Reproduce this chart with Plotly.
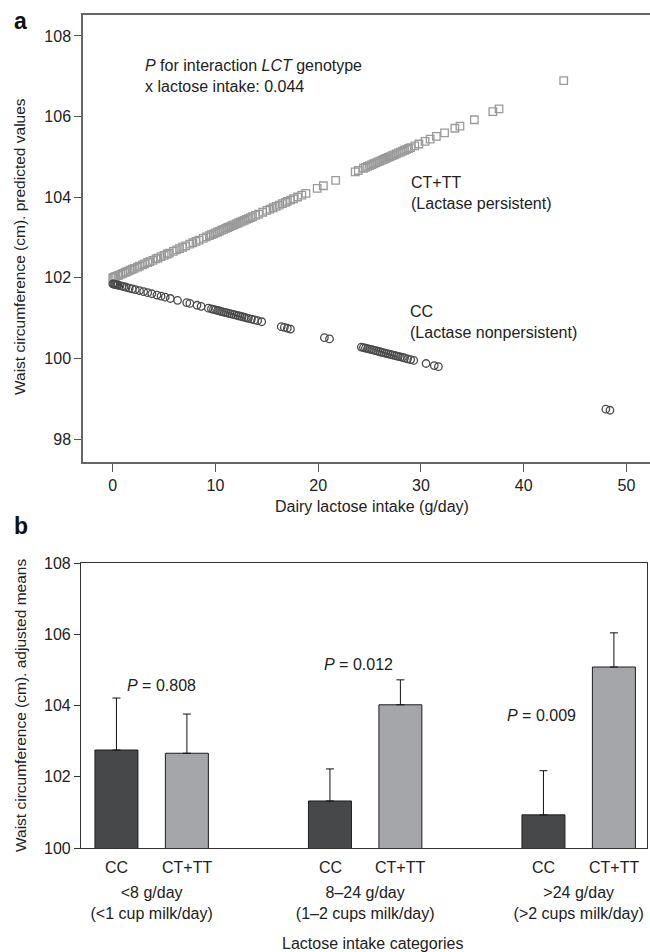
import plotly.graph_objects as go

# ---------------- Panel a data ----------------
ct_x = [0.0, 0.1, 0.2, 0.3, 0.5, 0.6, 0.8, 1.0, 1.2, 1.3, 1.5, 1.7, 1.9, 2.1, 2.4, 2.6, 2.9, 3.1,
        3.4, 3.6, 3.9, 4.2, 4.4, 4.7, 5.0, 5.3, 5.5, 5.9, 6.2, 6.5, 6.8, 7.1, 7.5, 7.8, 8.1, 8.4,
        8.8, 9.1, 9.4, 9.6, 9.8, 10.0, 10.2, 10.4, 10.6, 10.8, 11.0, 11.2, 11.4, 11.6, 11.8, 12.0,
        12.2, 12.4, 12.6, 12.8, 13.0, 13.2, 13.4, 13.6, 13.9, 14.2, 14.6, 15.0, 15.3, 15.6, 15.9,
        16.2, 16.5, 16.8, 17.0, 17.3, 17.6, 18.0, 18.4, 18.8, 19.9, 20.5, 21.7, 23.6, 23.9, 24.4,
        24.6, 24.8, 25.0, 25.2, 25.4, 25.6, 25.8, 26.0, 26.2, 26.4, 26.6, 26.8, 27.0, 27.2, 27.4,
        27.6, 27.8, 28.0, 28.2, 28.4, 28.6, 28.8, 29.0, 29.4, 29.8, 30.4, 30.9, 31.5, 32.3, 33.3,
        33.8, 35.2, 37.0, 37.6, 43.9]
ct_y = [102.000, 102.011, 102.022, 102.033, 102.056, 102.067, 102.089, 102.111, 102.134, 102.145,
        102.167, 102.189, 102.212, 102.234, 102.267, 102.290, 102.323, 102.345, 102.379, 102.401,
        102.434, 102.468, 102.490, 102.524, 102.557, 102.590, 102.613, 102.657, 102.691, 102.724,
        102.758, 102.791, 102.836, 102.869, 102.902, 102.936, 102.980, 103.014, 103.047, 103.069,
        103.092, 103.114, 103.136, 103.159, 103.181, 103.203, 103.225, 103.248, 103.270, 103.292,
        103.315, 103.337, 103.359, 103.381, 103.404, 103.426, 103.448, 103.470, 103.493, 103.515,
        103.548, 103.582, 103.626, 103.671, 103.704, 103.738, 103.771, 103.805, 103.838, 103.872,
        103.894, 103.927, 103.961, 104.005, 104.050, 104.094, 104.217, 104.284, 104.417, 104.629,
        104.662, 104.718, 104.740, 104.763, 104.785, 104.807, 104.830, 104.852, 104.874, 104.896,
        104.919, 104.941, 104.963, 104.986, 105.008, 105.030, 105.052, 105.075, 105.097, 105.119,
        105.141, 105.164, 105.186, 105.208, 105.231, 105.275, 105.320, 105.387, 105.442, 105.509,
        105.598, 105.710, 105.765, 105.921, 106.122, 106.189, 106.890]

cc_x = [0.0, 0.1, 0.2, 0.3, 0.4, 0.5, 0.7, 0.9, 1.1, 1.3, 1.6, 1.9, 2.2, 2.6, 3.0, 3.4, 3.8, 4.3,
        4.7, 5.1, 5.6, 6.3, 7.2, 7.5, 8.2, 8.6, 9.3, 9.6, 9.8, 10.0, 10.2, 10.4, 10.6, 10.8, 11.0,
        11.2, 11.4, 11.6, 11.8, 12.0, 12.2, 12.4, 12.6, 12.8, 13.0, 13.2, 13.5, 13.8, 14.1, 14.5,
        16.4, 16.7, 17.0, 17.3, 20.6, 21.1, 24.2, 24.4, 24.6, 24.8, 25.0, 25.2, 25.4, 25.6, 25.8,
        26.0, 26.2, 26.4, 26.6, 26.8, 27.0, 27.2, 27.4, 27.6, 27.8, 28.0, 28.2, 28.4, 28.7, 29.0,
        29.3, 30.5, 31.3, 31.7, 48.0, 48.4]
cc_y = [101.850, 101.844, 101.837, 101.831, 101.824, 101.818, 101.805, 101.792, 101.779, 101.766,
        101.746, 101.727, 101.707, 101.682, 101.656, 101.630, 101.604, 101.571, 101.545, 101.520,
        101.487, 101.442, 101.383, 101.364, 101.319, 101.293, 101.247, 101.228, 101.215, 101.202,
        101.189, 101.176, 101.163, 101.150, 101.137, 101.124, 101.111, 101.098, 101.085, 101.072,
        101.059, 101.046, 101.034, 101.021, 101.008, 100.995, 100.975, 100.956, 100.936, 100.910,
        100.787, 100.768, 100.748, 100.729, 100.515, 100.483, 100.282, 100.269, 100.256, 100.243,
        100.230, 100.217, 100.204, 100.191, 100.178, 100.165, 100.152, 100.139, 100.126, 100.113,
        100.100, 100.087, 100.074, 100.061, 100.049, 100.036, 100.023, 100.010, 99.990, 99.971,
        99.951, 99.874, 99.822, 99.796, 98.740, 98.714]

top_xticks = [0, 10, 20, 30, 40, 50]
top_yticks = [98, 100, 102, 104, 106, 108]

# ---------------- Panel b data ----------------
categories = ["<8 g/day", "8-24 g/day", ">24 g/day"]
category_text = ["&lt;8 g/day<br>(&lt;1 cup milk/day)",
                 "8–24 g/day<br>(1–2 cups milk/day)",
                 "&gt;24 g/day<br>(&gt;2 cups milk/day)"]
cc_means = [102.75, 101.32, 100.93]
cc_err = [1.46, 0.90, 1.24]
ctt_means = [102.66, 104.02, 105.08]
ctt_err = [1.10, 0.70, 0.96]
p_values = ["0.808", "0.012", "0.009"]
bot_yticks = [100, 102, 104, 106, 108]

W, H = 650, 952
def fx(px):
    return px / W
def fy(py):
    return 1 - py / H

FONT = "Liberation Sans, Arial, Helvetica, sans-serif"
TXT = "#222222"
FS = 16

fig = go.Figure()

fig.add_trace(go.Scatter(
    x=ct_x, y=ct_y, mode="markers", xaxis="x", yaxis="y",
    marker=dict(symbol="square-open", size=7.5, color="#9a9a9a", line=dict(width=1.3)),
    showlegend=False))
fig.add_trace(go.Scatter(
    x=cc_x, y=cc_y, mode="markers", xaxis="x", yaxis="y",
    marker=dict(symbol="circle-open", size=7.5, color="#4a4a4a", line=dict(width=1.3)),
    showlegend=False))

fig.add_trace(go.Bar(
    x=categories, y=cc_means, xaxis="x2", yaxis="y2", name="CC",
    marker=dict(color="#474849", line=dict(color="#1e1e1e", width=1)),
    error_y=dict(type="data", array=cc_err, arrayminus=[0, 0, 0], symmetric=False,
                 color="#111111", thickness=1, width=4),
    showlegend=False))
fig.add_trace(go.Bar(
    x=categories, y=ctt_means, xaxis="x2", yaxis="y2", name="CT+TT",
    marker=dict(color="#a5a6a9", line=dict(color="#1e1e1e", width=1)),
    error_y=dict(type="data", array=ctt_err, arrayminus=[0, 0, 0], symmetric=False,
                 color="#111111", thickness=1, width=4),
    showlegend=False))

axis_font = dict(family=FONT, size=FS, color=TXT)

fig.update_layout(
    width=W, height=H,
    margin=dict(l=0, r=0, t=0, b=0, autoexpand=False),
    paper_bgcolor="white", plot_bgcolor="white",
    font=dict(family=FONT, size=FS, color=TXT),
    barmode="group", bargap=0.34, bargroupgap=0.39,
    xaxis=dict(domain=[fx(83), 1], anchor="y", range=[-2.9, 52.3], automargin=False,
               tickvals=top_xticks, ticks="outside", ticklen=8, tickwidth=1.3,
               tickcolor="#555", showline=True, linecolor="#666", linewidth=1.5,
               mirror=True, showgrid=False, zeroline=False, tickfont=axis_font),
    yaxis=dict(domain=[fy(462), fy(15)], anchor="x", range=[97.43, 108.52], automargin=False,
               tickvals=top_yticks, ticks="outside", ticklen=7, tickwidth=1.3,
               tickcolor="#555", showline=True, linecolor="#666", linewidth=1.5,
               showgrid=False, zeroline=False, tickfont=axis_font),
    xaxis2=dict(domain=[fx(81), fx(647)], anchor="y2", range=[-0.331, 2.32], automargin=False,
                type="category", tickvals=categories, ticktext=category_text,
                ticks="", ticklabelstandoff=30,
                showline=True, linecolor="#333", linewidth=1.2, mirror=True,
                showgrid=False, zeroline=False, tickfont=axis_font),
    yaxis2=dict(domain=[fy(848), fy(563)], anchor="x2", range=[100, 108], automargin=False,
                tickvals=bot_yticks, ticks="outside", ticklen=6, tickwidth=1.2,
                tickcolor="#333", showline=True, linecolor="#333", linewidth=1.2,
                mirror=True, showgrid=False, zeroline=False, tickfont=axis_font),
)

ann = []
def A(text, x, y, **kw):
    d = dict(text=text, x=x, y=y, xref="paper", yref="paper", showarrow=False,
             xanchor="center", yanchor="middle",
             font=dict(family=FONT, size=FS, color=TXT))
    d.update(kw)
    ann.append(d)

A("<b>a</b>", fx(20), fy(21), font=dict(family=FONT, size=23, color="#111"))
A("<b>b</b>", fx(21), fy(526), font=dict(family=FONT, size=23, color="#111"))

A("Waist circumference (cm). predicted values", fx(20), fy(247), textangle=-90,
  font=dict(family=FONT, size=15.5, color=TXT))
A("Waist circumference (cm). adjusted means", fx(20), fy(706), textangle=-90,
  font=dict(family=FONT, size=15.5, color=TXT))
A("Dairy lactose intake (g/day)", fx(372), fy(506))
A("Lactose intake categories", fx(372), fy(943))

A("<i>P</i> for interaction <i>LCT</i> genotype<br>x lactose intake: 0.044",
  fx(143), fy(76), xanchor="left", align="left")
A("CT+TT<br>(Lactase persistent)", fx(409), fy(193), xanchor="left", align="left")
A("CC<br>(Lactase nonpersistent)", fx(408), fy(322), xanchor="left", align="left")

# P values above groups
A("<i>P</i> = " + p_values[0], fx(125), fy(685), xanchor="left")
A("<i>P</i> = " + p_values[1], fx(322), fy(664), xanchor="left")
A("<i>P</i> = " + p_values[2], fx(505), fy(715), xanchor="left")

# genotype labels under each bar
for c in categories:
    ann.append(dict(text="CC", x=c, y=fy(867), xref="x2", yref="paper", xshift=-35,
                    xanchor="center", yanchor="middle", showarrow=False,
                    font=dict(family=FONT, size=FS, color=TXT)))
    ann.append(dict(text="CT+TT", x=c, y=fy(867), xref="x2", yref="paper", xshift=35,
                    xanchor="center", yanchor="middle", showarrow=False,
                    font=dict(family=FONT, size=FS, color=TXT)))

fig.update_layout(annotations=ann)
fig.write_html("out.html", config={"displayModeBar": False},
               post_script="document.body.style.margin='0';document.body.style.overflow='hidden';")
